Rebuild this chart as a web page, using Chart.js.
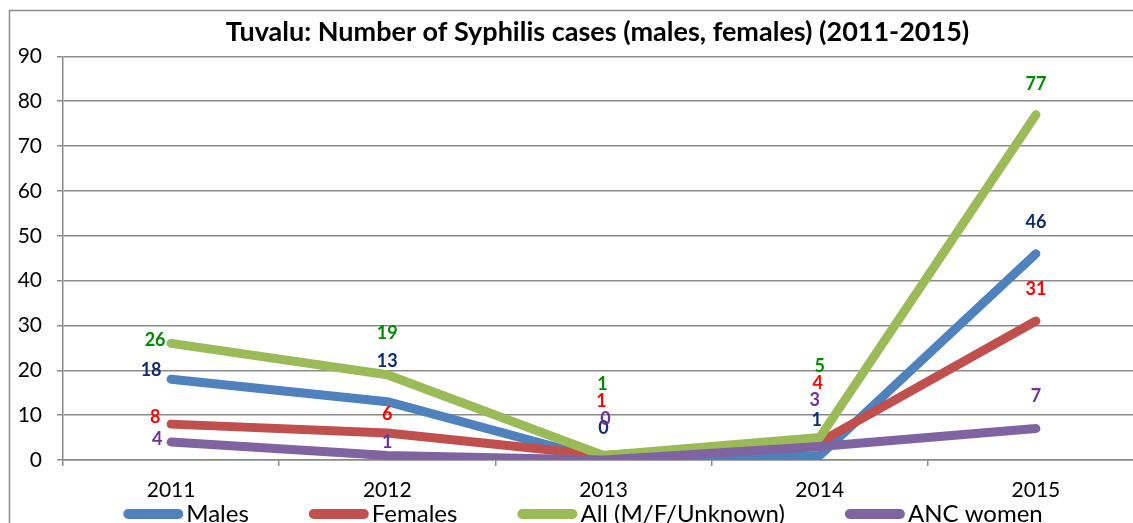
<!DOCTYPE html>
<html>
<head>
<meta charset="utf-8">
<title>Tuvalu syphilis cases</title>
<script src="https://cdn.jsdelivr.net/npm/chart.js@4/dist/chart.umd.min.js"></script>
<style>
	html, body { margin: 0; padding: 0; overflow: hidden; background: #fff; }
	#wrap { width: 1195px; height: 523px; }
</style>
</head>
<body>
<div id="wrap"><canvas id="chart" width="1195" height="523"></canvas></div>
<script>
// chart data
const years = [ '2011', '2012', '2013', '2014', '2015' ];
const males = [ 18, 13, 0, 1, 46 ];
const females = [ 8, 6, 1, 4, 31 ];
const allCases = [ 26, 19, 1, 5, 77 ];
const ancWomen = [ 4, 1, 0, 3, 7 ];
const yMin = 0;
const yMax = 90;
const yStep = 10;

// label nudges (dx, dy from the point), kept apart from the values
const malesNudge = [ [ -20, -9 ], [ 0, -41 ], [ 0, -32 ], [ -3, -35 ], [ 0, -32 ] ];
const femalesNudge = [ [ -16, -7 ], [ 0, -19 ], [ -2, -54 ], [ -2, -59 ], [ 0, -32 ] ];
const allNudge = [ [ -16, -3 ], [ 0, -42 ], [ -1, -71 ], [ 0, -71 ], [ 0, -31 ] ];
const ancNudge = [ [ -14, -3 ], [ 0, -13 ], [ 2, -41 ], [ -5, -46 ], [ 0, -32 ] ];

const fontFamily = 'Lato, "Open Sans", sans-serif';
const gridColor = '#8a8a8a';

let makeSeries = (label, data, color, labelColor, nudge, order) => ({
	label,
	data,
	borderColor: color,
	backgroundColor: color,
	borderWidth: 9,
	borderCapStyle: 'round',
	borderJoinStyle: 'round',
	pointRadius: 0,
	pointHoverRadius: 0,
	tension: 0,
	fill: false,
	labelColor,
	labelNudge: nudge,
	order,
});

// outer frame of the chart
let chartFrame = {
	id: 'chartFrame',
	beforeDraw (chart) {
		let { ctx } = chart;
		ctx.save();
		ctx.strokeStyle = gridColor;
		ctx.lineWidth = 1.5;
		ctx.strokeRect(9.5, 10.5, 1400, 700);
		ctx.restore();
	},
};

// value labels next to each point
let valueLabels = {
	id: 'valueLabels',
	afterDatasetsDraw (chart) {
		let { ctx } = chart;
		ctx.save();
		ctx.font = 'bold 18px ' + fontFamily;
		ctx.textAlign = 'center';
		ctx.textBaseline = 'middle';
		chart.data.datasets.forEach((ds, i) => {
			let meta = chart.getDatasetMeta(i);
			meta.data.forEach((pt, j) => {
				let [ dx, dy ] = ds.labelNudge[j];
				ctx.fillStyle = ds.labelColor;
				ctx.fillText(String(ds.data[j]), pt.x + dx, pt.y + dy);
			});
		});
		ctx.restore();
	},
};

// legend along the bottom edge, line samples with round caps
let bottomLegend = {
	id: 'bottomLegend',
	afterDraw (chart) {
		let { ctx } = chart;
		let sample = 50;
		let gapText = 3;
		let gapItem = 60;
		ctx.save();
		ctx.font = '24px ' + fontFamily;
		let items = chart.data.datasets.map(ds => ({
			text: ds.label,
			color: ds.borderColor,
			w: ctx.measureText(ds.label).width,
		}));
		let total = items.reduce((s, it) => s + sample + 10 + gapText + it.w, 0) + gapItem * (items.length - 1);
		let x = 583 - total / 2;
		let y = 514;
		items.forEach(it => {
			ctx.beginPath();
			ctx.lineCap = 'round';
			ctx.lineWidth = 10;
			ctx.strokeStyle = it.color;
			ctx.moveTo(x + 5, y);
			ctx.lineTo(x + 5 + sample, y);
			ctx.stroke();
			let tx = x + sample + 10 + gapText;
			ctx.fillStyle = '#000';
			ctx.textAlign = 'left';
			ctx.textBaseline = 'alphabetic';
			ctx.fillText(it.text, tx, 522);
			x = tx + it.w + gapItem;
		});
		ctx.restore();
	},
};

let config = {
	type: 'line',
	data: {
		labels: years,
		datasets: [
			makeSeries('Males', males, '#4F81BD', '#0E2C6E', malesNudge, 4),
			makeSeries('Females', females, '#C0504D', '#FF0000', femalesNudge, 3),
			makeSeries('All (M/F/Unknown)', allCases, '#9BBB59', '#008A00', allNudge, 2),
			makeSeries('ANC women', ancWomen, '#8064A2', '#7030A0', ancNudge, 1),
		],
	},
	options: {
		responsive: false,
		animation: false,
		devicePixelRatio: 1,
		layout: {
			padding: { left: 0, top: 0, right: 0, bottom: 19 },
		},
		plugins: {
			legend: { display: false },
			tooltip: { enabled: false },
			title: {
				display: true,
				text: 'Tuvalu: Number of Syphilis cases (males, females) (2011-2015)',
				color: '#000',
				padding: { top: 16, bottom: 8 },
				font: { family: fontFamily, size: 27, weight: 'bold', lineHeight: 1.2 },
			},
		},
		scales: {
			x: {
				type: 'category',
				offset: true,
				afterFit: (scale) => { scale.height = 44; },
				grid: {
					display: true,
					offset: true,
					drawOnChartArea: false,
					drawTicks: true,
					tickLength: 6,
					color: gridColor,
					lineWidth: 1.5,
				},
				border: { display: true, color: gridColor, width: 1.5 },
				ticks: {
					color: '#000',
					padding: 12,
					maxRotation: 0,
					font: { family: fontFamily, size: 21 },
				},
			},
			y: {
				min: yMin,
				max: yMax,
				afterFit: (scale) => { scale.width = 63; },
				grid: {
					color: gridColor,
					lineWidth: 1.5,
					tickLength: 6,
				},
				border: { display: true, color: gridColor, width: 1.5 },
				ticks: {
					stepSize: yStep,
					color: '#000',
					padding: 15,
					font: { family: fontFamily, size: 21 },
				},
			},
			// empty right margin of the plot (cut off in the picture)
			yRight: {
				position: 'right',
				display: true,
				afterFit: (scale) => { scale.width = 51; },
				grid: { display: false },
				border: { display: false },
				ticks: { display: false },
			},
		},
	},
	plugins: [ chartFrame, valueLabels, bottomLegend ],
};

new Chart(document.getElementById('chart'), config);
</script>
</body>
</html>
